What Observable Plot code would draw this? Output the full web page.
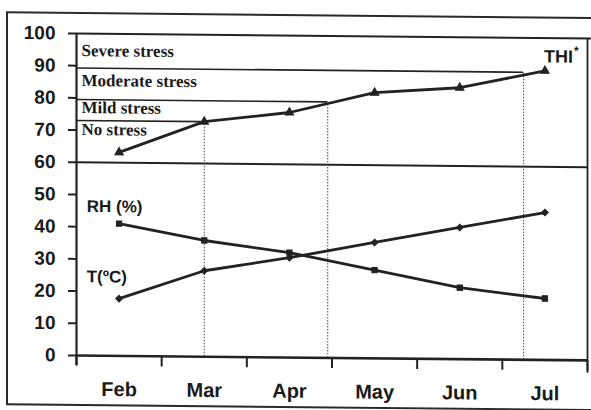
<!DOCTYPE html>
<html>
<head>
<meta charset="utf-8">
<script src="https://cdn.jsdelivr.net/npm/d3@7"></script>
<script src="https://cdn.jsdelivr.net/npm/@observablehq/plot@0.6"></script>
<style>
  html, body { margin: 0; padding: 0; background: #fff; }
  #wrap { position: relative; width: 591px; height: 410px; overflow: hidden; }
  #sk { position: absolute; left: 0; top: 0; width: 591px; height: 410px;
        transform: skewY(0.55deg); transform-origin: 76px 0; }
  #border { position: absolute; left: 6px; top: 12px; width: 620px; height: 394px;
            border: 2.5px solid #2a2a2a; box-sizing: border-box; }
  svg { position: absolute; left: 0; top: 0; overflow: visible; }
</style>
</head>
<body>
<div id="wrap"><div id="sk"><div id="border"></div></div></div>
<script>
// ---- data ----
const months = ["Feb", "Mar", "Apr", "May", "Jun", "Jul"];
const thi  = [63.2, 73.0, 76.1, 82.5, 84.3, 89.8];
const rh   = [41.1, 36.1, 32.6, 27.4, 22.2, 19.1];
const temp = [17.8, 26.7, 31.0, 36.0, 40.9, 45.8];
const yTicks = [0, 10, 20, 30, 40, 50, 60, 70, 80, 90, 100];

// THI stress zones: boundaries and where THI crosses them (month index)
const stressNames  = ["Severe stress", "Moderate stress", "Mild stress", "No stress"];
const stressLabelY = [93.0, 83.7, 75.3, 68.5];
const stressBounds = [89.3, 79.5, 73.0];
const boundCross   = [4.75, 2.45, 1.0];

// series labels
const seriesNames = ["THI", "RH (%)", "T(ºC)"];
const seriesLabelX = [4.99, -0.38, -0.38];
const seriesLabelY = [92.4, 44.6, 22.8];

const ink = "#222";
const idx = months.map((_, i) => i);
const edges = d3.range(-0.5, 6, 1);
const bounds = stressBounds.map((v, i) => ({v, x: boundCross[i]}));

const series = [
  {name: "THI", values: thi, symbol: "triangle", r: 6},
  {name: "RH", values: rh, symbol: "square", r: 5.4},
  {name: "T", values: temp, symbol: "diamond2", r: 5.4}
];
const pts = series.flatMap(s => s.values.map((v, i) => ({s: s.name, i, v, symbol: s.symbol, r: s.r})));

const chart = Plot.plot({
  width: 591,
  height: 410,
  marginLeft: 76,
  marginRight: 4,
  marginTop: 33,
  marginBottom: 55,
  style: {background: "transparent", fontFamily: "'Liberation Sans', Arial, sans-serif", color: ink},
  x: {type: "linear", domain: [-0.5, 5.5], label: null},
  y: {domain: [0, 100], label: null},
  marks: [
    // y axis
    Plot.axisY({ticks: yTicks, tickSize: 8, tickPadding: 13, tickFormat: d => String(d), label: null,
                fontSize: 19, fontWeight: "bold", stroke: ink, strokeWidth: 2, fill: "#1a1a1a"}),
    // x axis month labels
    Plot.axisX({ticks: idx, tickSize: 0, tickPadding: 26, tickFormat: i => months[i], label: null,
                fontSize: 20, fontWeight: "bold", fill: "#1a1a1a"}),
    // x tick marks at category edges
    Plot.ruleX(edges, {y1: 0, y2: -3.3, stroke: ink, strokeWidth: 2}),
    // frame lines
    Plot.ruleX([-0.5], {y1: -3, y2: 100, stroke: ink, strokeWidth: 2.2}),
    Plot.ruleX([5.5], {y1: -4, y2: 100, stroke: ink, strokeWidth: 1.8}),
    Plot.ruleY([100], {x1: -0.5, x2: 5.6, stroke: ink, strokeWidth: 2}),
    Plot.ruleY([60], {x1: -0.5, x2: 5.5, stroke: ink, strokeWidth: 2}),
    Plot.ruleY([0], {x1: -0.5, x2: 5.5, stroke: ink, strokeWidth: 2.6}),
    // stress boundaries
    Plot.ruleY(bounds, {y: "v", x1: -0.5, x2: "x", stroke: ink, strokeWidth: 1.6}),
    Plot.ruleX(bounds, {x: "x", y1: 0, y2: "v", stroke: "#444", strokeWidth: 1, strokeDasharray: "1.5,1.5"}),
    Plot.text(stressNames, {x: -0.5, y: (d, i) => stressLabelY[i], text: d => d, dx: 5,
      textAnchor: "start", lineAnchor: "bottom", fontFamily: "'Liberation Serif', 'Times New Roman', serif",
      fontWeight: "bold", fontSize: 17, fill: "#1a1a1a"}),
    // series lines
    ...series.map(s => Plot.line(s.values, {x: (d, i) => i, y: d => d, stroke: ink, strokeWidth: 2.8})),
    Plot.dot(pts, {x: "i", y: "v", symbol: "symbol", r: "r", fill: ink, stroke: ink, strokeWidth: 1}),
    // series labels
    Plot.text(seriesNames, {x: (d, i) => seriesLabelX[i], y: (d, i) => seriesLabelY[i], text: d => d,
      textAnchor: "start", lineAnchor: "bottom", fontWeight: "bold",
      fontSize: (d, i) => i === 0 ? 18 : 17, fill: "#1a1a1a"}),
    Plot.text(["*"], {x: seriesLabelX[0], y: seriesLabelY[0], text: d => d, dx: 30, dy: -8,
      textAnchor: "start", lineAnchor: "bottom", fontWeight: "bold", fontSize: 12, fill: "#1a1a1a"})
  ]
});
chart.style.overflow = "visible";
document.getElementById("sk").appendChild(chart);
</script>
</body>
</html>
